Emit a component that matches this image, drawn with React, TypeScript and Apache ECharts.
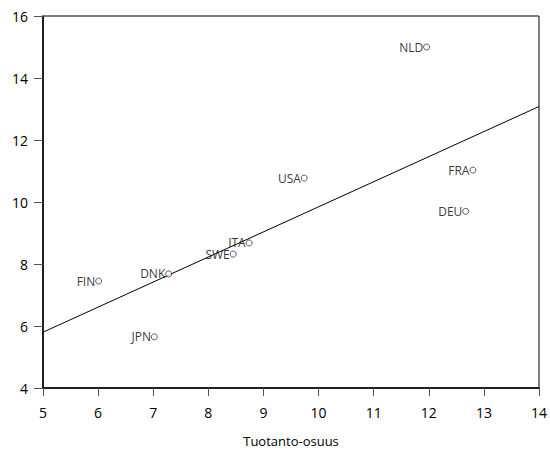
import React, { useEffect, useRef } from "react";
import * as echarts from "echarts";

const countries = ["NLD", "FRA", "DEU", "USA", "ITA", "SWE", "DNK", "FIN", "JPN"];
const xValues = [11.96, 12.8, 12.67, 9.74, 8.74, 8.45, 7.28, 6.01, 7.02];
const yValues = [15.0, 11.03, 9.7, 10.77, 8.68, 8.32, 7.68, 7.45, 5.65];
const fitLine: [number, number][] = [[5, 5.8], [14, 13.08]];
const xAxisName = "Tuotanto-osuus";

const FONT = "'Open Sans', 'Noto Sans', sans-serif";

export default function App() {
  const ref = useRef<HTMLDivElement>(null);
  useEffect(() => {
    if (!ref.current) return;
    const chart = echarts.init(ref.current, undefined, { renderer: "svg" });
    const points = countries.map((c, i) => ({ name: c, value: [xValues[i], yValues[i]] }));
    chart.setOption({
      animation: false,
      backgroundColor: "#fff",
      grid: {
        left: 43,
        right: 9,
        top: 16,
        bottom: 64,
        show: true,
        borderColor: "#000",
        borderWidth: 1,
      },
      xAxis: {
        type: "value",
        min: 5,
        max: 14,
        interval: 1,
        name: xAxisName,
        nameLocation: "middle",
        nameGap: 46,
        nameTextStyle: { fontFamily: FONT, fontSize: 13, color: "#000" },
        axisLine: { show: true, lineStyle: { color: "#000", width: 1.5 } },
        axisTick: { show: true, inside: false, length: 8, lineStyle: { color: "#555" } },
        axisLabel: { margin: 17, fontFamily: FONT, fontSize: 14, color: "#000" },
        splitLine: { show: false },
      },
      yAxis: {
        type: "value",
        min: 4,
        max: 16,
        interval: 2,
        axisLine: { show: true, lineStyle: { color: "#000", width: 1.5 } },
        axisTick: { show: true, inside: false, length: 9, lineStyle: { color: "#555" } },
        axisLabel: { margin: 15, fontFamily: FONT, fontSize: 14, color: "#000" },
        splitLine: { show: false },
      },
      series: [
        {
          type: "line",
          data: fitLine,
          symbol: "none",
          lineStyle: { color: "#000", width: 1 },
          silent: true,
          z: 2,
        },
        {
          type: "scatter",
          data: points,
          symbol: "circle",
          symbolSize: 6,
          itemStyle: { color: "#fff", borderColor: "#000", borderWidth: 0.8 },
          label: {
            show: true,
            position: "left",
            distance: 0,
            formatter: "{b}",
            fontFamily: FONT,
            fontSize: 12,
            color: "#000",
          },
          z: 3,
        },
      ],
    });
    return () => chart.dispose();
  }, []);
  return (
    <div
      ref={ref}
      style={{ position: "absolute", left: 0, top: 0, width: 550, height: 452 }}
    />
  );
}
